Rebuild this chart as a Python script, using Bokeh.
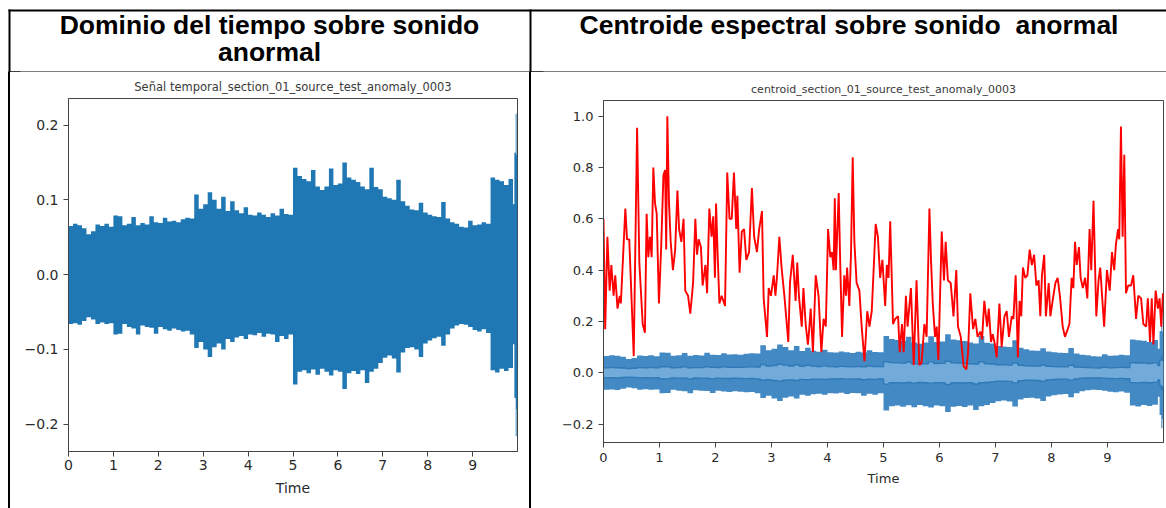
import numpy as np
from bokeh.plotting import figure
from bokeh.models import Range1d, FixedTicker, Div, GlobalInlineStyleSheet
from bokeh.core.properties import value
from bokeh.layouts import row, column
from bokeh.embed import file_html
from bokeh.resources import INLINE

# ---------------- texts ----------------
HEADER_LEFT_LINES = ["Dominio del tiempo sobre sonido", "anormal"]
HEADER_RIGHT = "Centroide espectral sobre sonido\u00a0 anormal"
TITLE_LEFT = "Señal temporal_section_01_source_test_anomaly_0003"
TITLE_RIGHT = "centroid_section_01_source_test_anomaly_0003"
X_LABEL = "Time"

# ---------------- ticks ----------------
X_TICKS = [0, 1, 2, 3, 4, 5, 6, 7, 8, 9]
X_TICK_LABELS = ["0", "1", "2", "3", "4", "5", "6", "7", "8", "9"]
WAVE_Y_TICKS = [-0.2, -0.1, 0.0, 0.1, 0.2]
WAVE_Y_LABELS = ["\u22120.2", "\u22120.1", "0.0", "0.1", "0.2"]
CENT_Y_TICKS = [-0.2, 0.0, 0.2, 0.4, 0.6, 0.8, 1.0]
CENT_Y_LABELS = ["\u22120.2", "0.0", "0.2", "0.4", "0.6", "0.8", "1.0"]

# ---------------- waveform envelope (seconds, amplitude) ----------------
ENV_TIME = [round(0.1 * i, 1) for i in range(100)] + [9.93, 9.96, 9.98]
ENV_UPPER = [
    0.065, 0.068, 0.066, 0.062, 0.054, 0.058, 0.067, 0.065, 0.068, 0.064,
    0.079, 0.078, 0.066, 0.068, 0.077, 0.066, 0.069, 0.067, 0.078, 0.070,
    0.069, 0.076, 0.071, 0.072, 0.070, 0.074, 0.076, 0.075, 0.107, 0.088,
    0.094, 0.110, 0.100, 0.088, 0.104, 0.085, 0.098, 0.086, 0.082, 0.090,
    0.080, 0.079, 0.083, 0.080, 0.077, 0.082, 0.079, 0.088, 0.081, 0.080,
    0.143, 0.132, 0.128, 0.125, 0.140, 0.118, 0.113, 0.118, 0.142, 0.120,
    0.122, 0.150, 0.130, 0.127, 0.124, 0.118, 0.114, 0.143, 0.117, 0.114,
    0.104, 0.102, 0.100, 0.127, 0.098, 0.092, 0.087, 0.086, 0.096, 0.083,
    0.080, 0.078, 0.077, 0.097, 0.075, 0.070, 0.068, 0.064, 0.063, 0.072,
    0.066, 0.067, 0.070, 0.068, 0.130, 0.127, 0.125, 0.120, 0.128, 0.094,
    0.163, 0.215, 0.160,
]
ENV_LOWER = [
    -0.066, -0.065, -0.067, -0.062, -0.057, -0.060, -0.066, -0.064, -0.066, -0.065,
    -0.080, -0.079, -0.066, -0.070, -0.072, -0.080, -0.068, -0.070, -0.071, -0.079,
    -0.070, -0.073, -0.075, -0.072, -0.074, -0.076, -0.075, -0.080, -0.098, -0.090,
    -0.100, -0.110, -0.097, -0.092, -0.100, -0.086, -0.090, -0.084, -0.082, -0.086,
    -0.080, -0.081, -0.078, -0.083, -0.079, -0.080, -0.090, -0.082, -0.086, -0.080,
    -0.147, -0.130, -0.128, -0.132, -0.127, -0.134, -0.126, -0.130, -0.135, -0.128,
    -0.130, -0.153, -0.132, -0.129, -0.133, -0.128, -0.145, -0.130, -0.126, -0.118,
    -0.111, -0.108, -0.112, -0.131, -0.104, -0.098, -0.097, -0.100, -0.110, -0.092,
    -0.088, -0.085, -0.083, -0.095, -0.080, -0.072, -0.068, -0.066, -0.067, -0.070,
    -0.074, -0.076, -0.073, -0.078, -0.128, -0.131, -0.126, -0.129, -0.125, -0.093,
    -0.165, -0.216, -0.180,
]

# ---------------- normalised spectral centroid ----------------
CENTROID_TIME = [
    0.00, 0.03, 0.07, 0.11, 0.14, 0.18, 0.21, 0.25, 0.29, 0.31, 0.39, 0.42, 0.46, 0.54,
    0.60, 0.64, 0.70, 0.74, 0.77, 0.80, 0.83, 0.86, 0.89, 0.92, 0.95, 0.99, 1.03, 1.07,
    1.10, 1.12, 1.14, 1.17, 1.20, 1.24, 1.28, 1.32, 1.35, 1.39, 1.43, 1.46, 1.51, 1.55,
    1.60, 1.64, 1.67, 1.70, 1.74, 1.77, 1.82, 1.85, 1.89, 1.93, 1.96, 1.99, 2.01, 2.04,
    2.07, 2.11, 2.17, 2.21, 2.25, 2.29, 2.33, 2.37, 2.39, 2.43, 2.47, 2.51, 2.55, 2.60,
    2.65, 2.69, 2.74, 2.78, 2.83, 2.86, 2.92, 2.95, 2.99, 3.04, 3.07, 3.10, 3.14, 3.18,
    3.23, 3.30, 3.33, 3.38, 3.43, 3.46, 3.49, 3.54, 3.57, 3.61, 3.65, 3.67, 3.70, 3.74,
    3.79, 3.84, 3.89, 3.93, 3.97, 4.01, 4.05, 4.08, 4.11, 4.13, 4.15, 4.20, 4.23, 4.26,
    4.30, 4.33, 4.35, 4.39, 4.42, 4.45, 4.48, 4.52, 4.57, 4.61, 4.66, 4.71, 4.75, 4.79,
    4.83, 4.86, 4.90, 4.94, 4.98, 5.03, 5.06, 5.09, 5.12, 5.17, 5.21, 5.26, 5.29, 5.33,
    5.36, 5.40, 5.43, 5.49, 5.54, 5.59, 5.64, 5.68, 5.73, 5.77, 5.82, 5.85, 5.88, 5.92,
    5.95, 5.98, 6.04, 6.08, 6.11, 6.15, 6.20, 6.25, 6.30, 6.33, 6.38, 6.43, 6.48, 6.51,
    6.55, 6.60, 6.64, 6.68, 6.73, 6.76, 6.80, 6.85, 6.88, 6.92, 6.95, 6.99, 7.02, 7.07,
    7.11, 7.16, 7.20, 7.24, 7.29, 7.32, 7.36, 7.40, 7.43, 7.46, 7.49, 7.53, 7.57, 7.61,
    7.65, 7.69, 7.73, 7.77, 7.80, 7.83, 7.87, 7.90, 7.95, 7.98, 8.02, 8.07, 8.11, 8.15,
    8.20, 8.24, 8.29, 8.32, 8.36, 8.39, 8.42, 8.45, 8.49, 8.52, 8.56, 8.60, 8.64, 8.68,
    8.71, 8.75, 8.80, 8.84, 8.87, 8.90, 8.94, 8.99, 9.04, 9.08, 9.12, 9.15, 9.19, 9.21,
    9.24, 9.27, 9.30, 9.33, 9.37, 9.42, 9.46, 9.51, 9.55, 9.60, 9.64, 9.69, 9.72, 9.76,
    9.79, 9.82, 9.86, 9.90, 9.93, 9.96, 9.99,
]
CENTROID_VALUE = [
    0.60, 0.17, 0.53, 0.32, 0.42, 0.30, 0.38, 0.25, 0.30, 0.27, 0.64, 0.52, 0.52, 0.065,
    0.955, 0.43, 0.19, 0.156, 0.62, 0.45, 0.53, 0.45, 0.80, 0.66, 0.62, 0.27, 0.49, 0.77,
    0.79, 0.48, 1.00, 0.66, 0.51, 0.40, 0.48, 0.71, 0.56, 0.51, 0.60, 0.32, 0.30, 0.23,
    0.35, 0.60, 0.46, 0.52, 0.49, 0.34, 0.42, 0.31, 0.64, 0.53, 0.61, 0.37, 0.66, 0.45,
    0.27, 0.30, 0.26, 0.78, 0.60, 0.60, 0.78, 0.56, 0.69, 0.39, 0.55, 0.56, 0.44, 0.47,
    0.72, 0.53, 0.47, 0.56, 0.63, 0.29, 0.14, 0.33, 0.30, 0.38, 0.30, 0.38, 0.53, 0.41,
    0.30, 0.12, 0.35, 0.46, 0.28, 0.43, 0.30, 0.18, 0.33, 0.19, 0.11, 0.16, 0.25, 0.08,
    0.38, 0.30, 0.08, 0.21, 0.18, 0.56, 0.45, 0.47, 0.40, 0.68, 0.40, 0.70, 0.40, 0.14,
    0.38, 0.30, 0.41, 0.26, 0.47, 0.84, 0.51, 0.35, 0.32, 0.18, 0.045, 0.24, 0.18, 0.24,
    0.43, 0.58, 0.53, 0.37, 0.44, 0.26, 0.42, 0.37, 0.59, 0.19, 0.21, 0.22, 0.08, 0.19,
    0.08, 0.30, 0.18, 0.33, 0.03, 0.36, 0.03, 0.04, 0.19, 0.14, 0.64, 0.43, 0.27, 0.14,
    0.18, 0.05, 0.55, 0.36, 0.51, 0.36, 0.35, 0.22, 0.40, 0.18, 0.14, 0.026, 0.013, 0.08,
    0.31, 0.17, 0.21, 0.14, 0.16, 0.13, 0.28, 0.18, 0.25, 0.12, 0.15, 0.11, 0.06, 0.27,
    0.10, 0.22, 0.24, 0.14, 0.22, 0.21, 0.38, 0.06, 0.28, 0.22, 0.41, 0.37, 0.38, 0.48,
    0.42, 0.46, 0.34, 0.36, 0.22, 0.38, 0.46, 0.22, 0.35, 0.22, 0.28, 0.35, 0.37, 0.30,
    0.18, 0.14, 0.17, 0.19, 0.37, 0.33, 0.51, 0.42, 0.49, 0.37, 0.33, 0.37, 0.29, 0.56,
    0.40, 0.67, 0.22, 0.36, 0.41, 0.31, 0.18, 0.40, 0.32, 0.47, 0.40, 0.50, 0.56, 0.52,
    0.96, 0.53, 0.85, 0.31, 0.34, 0.34, 0.38, 0.21, 0.30, 0.29, 0.19, 0.18, 0.29, 0.12,
    0.29, 0.11, 0.32, 0.25, 0.29, 0.18, 0.31,
]

DURATION = 10.0
WAVE_COLOR = "#1f77b4"
AXES_COLOR = "#444444"
TEXT_COLOR = "#2a2a2a"
FONT = "DejaVu Sans"

# envelope closed at the end of the clip
env_t = ENV_TIME + [DURATION]
env_hi = ENV_UPPER + [ENV_UPPER[-1]]
env_lo = ENV_LOWER + [ENV_LOWER[-1]]


def style_axes(p, y_ticks, y_labels, font_px, y_standoff, x_standoff, label_standoff):
    p.grid.visible = False
    p.outline_line_color = AXES_COLOR
    p.outline_line_width = 1
    p.background_fill_color = "white"
    p.border_fill_color = "white"
    for ax in (p.xaxis, p.yaxis):
        ax.axis_line_color = AXES_COLOR
        ax.major_tick_line_color = AXES_COLOR
        ax.minor_tick_line_color = None
        ax.major_tick_out = 5
        ax.major_tick_in = 0
        ax.major_label_text_font = FONT
        ax.major_label_text_font_size = f"{font_px}px"
        ax.major_label_text_color = TEXT_COLOR
    p.xaxis.ticker = FixedTicker(ticks=X_TICKS, minor_ticks=[])
    p.xaxis.major_label_overrides = dict(zip(X_TICKS, X_TICK_LABELS))
    p.xaxis.major_label_standoff = x_standoff
    p.xaxis.axis_label = X_LABEL
    p.xaxis.axis_label_text_font = FONT
    p.xaxis.axis_label_text_font_size = f"{font_px}px"
    p.xaxis.axis_label_text_font_style = "normal"
    p.xaxis.axis_label_text_color = TEXT_COLOR
    p.xaxis.axis_label_standoff = label_standoff
    p.yaxis.ticker = FixedTicker(ticks=y_ticks, minor_ticks=[])
    p.yaxis.major_label_overrides = dict(zip(y_ticks, y_labels))
    p.yaxis.major_label_standoff = y_standoff
    p.title.align = "center"
    p.title.text_font = FONT
    p.title.text_font_style = "normal"
    p.title.text_color = "#3a3a3a"


# ---------------- left: waveform ----------------
p1 = figure(width=519, height=436, title=TITLE_LEFT,
            x_range=Range1d(0, DURATION), y_range=Range1d(-0.2365, 0.2355),
            output_backend="svg", toolbar_location=None,
            min_border_left=58, min_border_right=12, min_border_top=26, min_border_bottom=57)
style_axes(p1, WAVE_Y_TICKS, WAVE_Y_LABELS, 14, 5, 3, 7)
p1.title.text_font_size = "11.5px"
p1.varea_step(x=env_t, y1=env_lo, y2=env_hi, step_mode="after", fill_color=WAVE_COLOR)

# ---------------- right: waveform + centroid ----------------
p2 = figure(width=635, height=436, title=TITLE_RIGHT,
            x_range=Range1d(0, DURATION), y_range=Range1d(-0.2717, 1.061),
            output_backend="svg", toolbar_location=None,
            min_border_left=72, min_border_right=3, min_border_top=28, min_border_bottom=66)
style_axes(p2, CENT_Y_TICKS, CENT_Y_LABELS, 13, 5, 5, 6)
p2.title.text_font_size = "11px"
core = 0.3
core_hi = [core * v for v in env_hi]
core_lo = [core * v for v in env_lo]
p2.varea_step(x=env_t, y1=env_lo, y2=env_hi, step_mode="after", fill_color="#4389c4")
p2.varea_step(x=env_t, y1=core_lo, y2=core_hi, step_mode="after", fill_color="#72abd9")
p2.step(env_t, core_hi, mode="after", line_color="#2f7ab8", line_width=1.4)
p2.step(env_t, core_lo, mode="after", line_color="#2f7ab8", line_width=1.4)
p2.line(CENTROID_TIME, CENTROID_VALUE, line_color="#ff0000", line_width=1.9)

# ---------------- header row of the table (drawn in pixel coordinates) ----------------
HEAD_H = 72
head = figure(width=1166, height=HEAD_H, x_range=Range1d(0, 1166), y_range=Range1d(HEAD_H, 0),
              x_axis_type=None, y_axis_type=None, output_backend="svg", toolbar_location=None,
              min_border=0, outline_line_color=None)
head.grid.visible = False
head.background_fill_color = "white"
head.border_fill_color = "white"
# rules: top, outer left, divider, under-header rule and its thicker ends
head.quad(left=[8, 8, 529, 8, 8, 529], right=[1166, 10, 531, 1166, 20, 543],
          top=[9, 9, 9, 71, 71, 71], bottom=[11, HEAD_H, HEAD_H, 72, 73, 73],
          fill_color="#000", line_color=None)
head.text(x=[269, 269, 848.5], y=[24.5, 51.5, 24.5],
          text=HEADER_LEFT_LINES + [HEADER_RIGHT],
          text_font=value("Liberation Sans"), text_font_style="bold", text_font_size="26.5px",
          text_align="center", text_baseline="alphabetic", text_color="#000")


def spacer(w, h):
    return Div(text=f'<div style="width:{w}px;height:{h}px;"></div>', width=w, height=h, margin=0)


def vline(h):
    return Div(text=f'<div style="width:2px;height:{h}px;background:#000;"></div>',
               width=2, height=h, margin=0)


body_h = 508 - HEAD_H
page = column(
    head,
    row(spacer(8, body_h), vline(body_h), column(p1), vline(body_h), column(p2), spacing=0),
    spacing=0,
    stylesheets=[GlobalInlineStyleSheet(css="html, body { margin: 0; padding: 0; background: white; }")],
)

open("out.html", "w").write(file_html(page, INLINE))
